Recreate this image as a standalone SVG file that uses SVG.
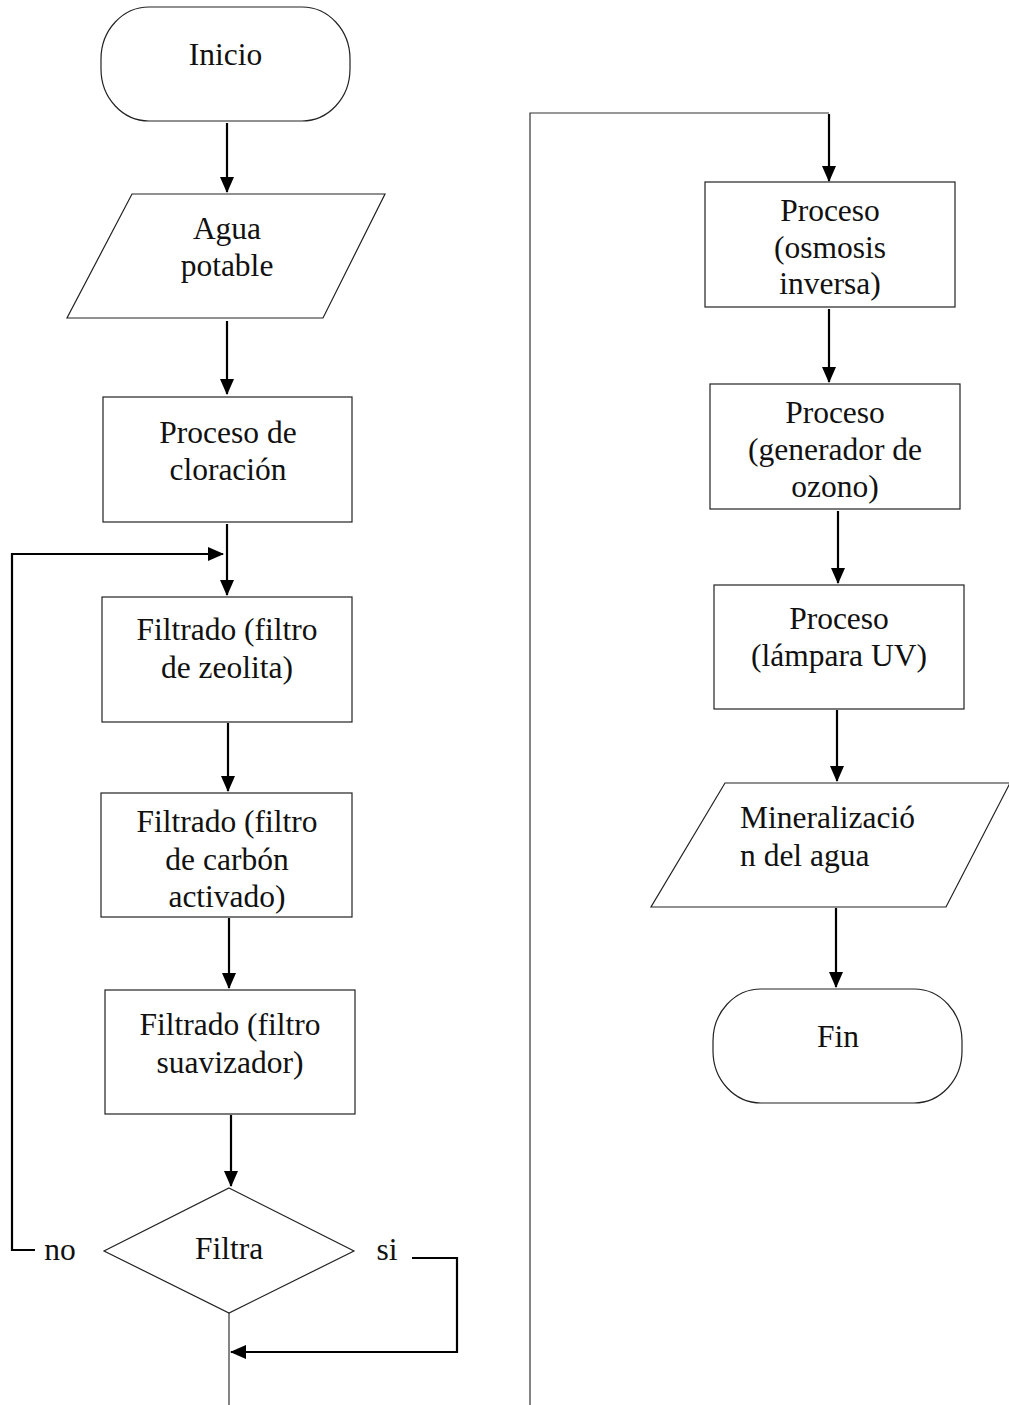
<svg xmlns="http://www.w3.org/2000/svg" width="1009" height="1405" viewBox="0 0 1009 1405">
  <style>
    .shape { fill: #ffffff; stroke: #222222; stroke-width: 1.2; }
    .lbl { font-family: "Liberation Serif", "Times New Roman", serif; font-size: 31.5px; fill: #111111; text-anchor: middle; }
    .lbl-left { text-anchor: start; }
    .flow { fill: none; stroke: #000000; stroke-width: 2.2; }
    .thin { fill: none; stroke: #333333; stroke-width: 1.2; }
  </style>
  <defs>
    <marker id="arrow" markerUnits="userSpaceOnUse" markerWidth="16" markerHeight="14" refX="15" refY="7" orient="auto">
      <path d="M0,0 L16,7 L0,14 Z" fill="#000000"/>
    </marker>
  </defs>
  <rect width="1009" height="1405" fill="#ffffff"/>

  <!-- connectors -->
  <g id="connectors">
    <line class="flow" x1="227" y1="123" x2="227" y2="192" marker-end="url(#arrow)"/>
    <line class="flow" x1="227" y1="321" x2="227" y2="394" marker-end="url(#arrow)"/>
    <line class="flow" x1="227" y1="524" x2="227" y2="595" marker-end="url(#arrow)"/>
    <polyline class="flow" points="35,1250 12,1250 12,554 223,554" marker-end="url(#arrow)"/>
    <line class="flow" x1="228" y1="723" x2="228" y2="791" marker-end="url(#arrow)"/>
    <line class="flow" x1="229" y1="918" x2="229" y2="988" marker-end="url(#arrow)"/>
    <line class="flow" x1="231" y1="1115" x2="231" y2="1186" marker-end="url(#arrow)"/>
    <polyline class="flow" points="412,1258 457,1258 457,1352 231,1352" marker-end="url(#arrow)"/>
    <line class="thin" x1="229" y1="1313" x2="229" y2="1405"/>
    <polyline class="thin" points="530,1405 530,113 829,113"/>
    <line class="flow" x1="829" y1="114" x2="829" y2="181" marker-end="url(#arrow)"/>
    <line class="flow" x1="829" y1="309" x2="829" y2="382" marker-end="url(#arrow)"/>
    <line class="flow" x1="838" y1="511" x2="838" y2="583" marker-end="url(#arrow)"/>
    <line class="flow" x1="837" y1="710" x2="837" y2="781" marker-end="url(#arrow)"/>
    <line class="flow" x1="836" y1="908" x2="836" y2="987" marker-end="url(#arrow)"/>
  </g>

  <!-- left column -->
  <g id="inicio">
    <rect class="shape" x="101" y="7" width="249" height="114" rx="48" ry="52"/>
    <text class="lbl" x="225.5" y="65">Inicio</text>
  </g>
  <g id="agua-potable">
    <polygon class="shape" points="132,194 385,194 323,318 67,318"/>
    <text class="lbl" x="227" y="239">Agua</text>
    <text class="lbl" x="227" y="276">potable</text>
  </g>
  <g id="cloracion">
    <rect class="shape" x="103" y="397" width="249" height="125"/>
    <text class="lbl" x="228" y="443">Proceso de</text>
    <text class="lbl" x="228" y="480">cloración</text>
  </g>
  <g id="zeolita">
    <rect class="shape" x="102" y="597" width="250" height="125"/>
    <text class="lbl" x="227" y="640">Filtrado (filtro</text>
    <text class="lbl" x="227" y="678">de zeolita)</text>
  </g>
  <g id="carbon">
    <rect class="shape" x="101" y="793" width="251" height="124"/>
    <text class="lbl" x="227" y="832">Filtrado (filtro</text>
    <text class="lbl" x="227" y="870">de carbón</text>
    <text class="lbl" x="227" y="907">activado)</text>
  </g>
  <g id="suavizador">
    <rect class="shape" x="105" y="990" width="250" height="124"/>
    <text class="lbl" x="230" y="1035">Filtrado (filtro</text>
    <text class="lbl" x="230" y="1073">suavizador)</text>
  </g>
  <g id="filtra">
    <polygon class="shape" points="229,1188 354,1251 229,1313 104,1251"/>
    <text class="lbl" x="229" y="1259">Filtra</text>
    <text class="lbl" x="60" y="1260">no</text>
    <text class="lbl" x="387" y="1260">si</text>
  </g>

  <!-- right column -->
  <g id="osmosis">
    <rect class="shape" x="705" y="182" width="250" height="125"/>
    <text class="lbl" x="830" y="221">Proceso</text>
    <text class="lbl" x="830" y="258">(osmosis</text>
    <text class="lbl" x="830" y="294">inversa)</text>
  </g>
  <g id="ozono">
    <rect class="shape" x="710" y="384" width="250" height="125"/>
    <text class="lbl" x="835" y="423">Proceso</text>
    <text class="lbl" x="835" y="460">(generador de</text>
    <text class="lbl" x="835" y="497">ozono)</text>
  </g>
  <g id="uv">
    <rect class="shape" x="714" y="585" width="250" height="124"/>
    <text class="lbl" x="839" y="629">Proceso</text>
    <text class="lbl" x="839" y="666">(lámpara UV)</text>
  </g>
  <g id="mineralizacion">
    <polygon class="shape" points="725,783 1010,783 946,907 651,907"/>
    <text class="lbl lbl-left" x="740" y="828">Mineralizació</text>
    <text class="lbl lbl-left" x="740" y="866">n del agua</text>
  </g>
  <g id="fin">
    <rect class="shape" x="713" y="989" width="249" height="114" rx="48" ry="52"/>
    <text class="lbl" x="838" y="1047">Fin</text>
  </g>
</svg>
